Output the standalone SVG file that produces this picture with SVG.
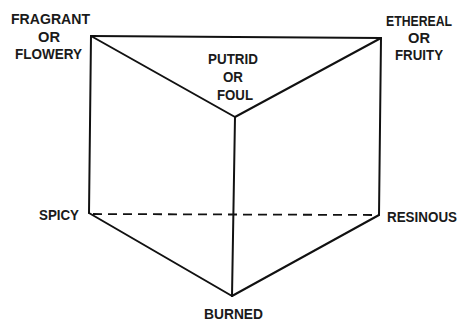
<svg xmlns="http://www.w3.org/2000/svg" width="461" height="321" viewBox="0 0 461 321">
<style>
.lbl{font-family:"Liberation Sans",Arial,sans-serif;font-weight:bold;font-size:15px;fill:#1a1a1a;text-anchor:middle}
.sm{font-size:14px}
.edge{stroke:#111;stroke-width:2;fill:none;stroke-linecap:round}
.dash{stroke:#111;stroke-width:1.8;fill:none;stroke-dasharray:9 6}
</style>
<rect width="461" height="321" fill="#fff"/>
<g id="connectors">
<line class="edge" x1="91" y1="36" x2="381" y2="38"/>
<line class="edge" x1="91" y1="36" x2="235" y2="117"/>
<line class="edge" x1="381" y1="38" x2="235" y2="117"/>
<line class="edge" x1="91" y1="36" x2="89" y2="213"/>
<line class="edge" x1="381" y1="38" x2="379" y2="215"/>
<line class="edge" x1="235" y1="117" x2="232" y2="296"/>
<line class="dash" x1="93" y1="214" x2="376" y2="215"/>
<line class="edge" x1="89" y1="213" x2="232" y2="296"/>
<line class="edge" x1="379" y1="215" x2="232" y2="296"/>
</g>
<g id="fragrant">
<text class="lbl" x="50.5" y="24" textLength="79" lengthAdjust="spacingAndGlyphs">FRAGRANT</text>
<text class="lbl" x="49" y="42" textLength="22" lengthAdjust="spacingAndGlyphs">OR</text>
<text class="lbl" x="48.5" y="59" textLength="67" lengthAdjust="spacingAndGlyphs">FLOWERY</text>
</g>
<g id="ethereal">
<text class="lbl sm" x="419" y="26" textLength="66" lengthAdjust="spacingAndGlyphs">ETHEREAL</text>
<text class="lbl sm" x="419" y="43" textLength="22" lengthAdjust="spacingAndGlyphs">OR</text>
<text class="lbl sm" x="419" y="60" textLength="48" lengthAdjust="spacingAndGlyphs">FRUITY</text>
</g>
<g id="putrid">
<text class="lbl" x="233" y="64" textLength="50" lengthAdjust="spacingAndGlyphs">PUTRID</text>
<text class="lbl" x="233" y="82" textLength="20" lengthAdjust="spacingAndGlyphs">OR</text>
<text class="lbl" x="235" y="99.5" textLength="36" lengthAdjust="spacingAndGlyphs">FOUL</text>
</g>
<g id="spicy">
<text class="lbl" x="59" y="220" textLength="40" lengthAdjust="spacingAndGlyphs">SPICY</text>
</g>
<g id="resinous">
<text class="lbl sm" x="422" y="221.5" textLength="70" lengthAdjust="spacingAndGlyphs">RESINOUS</text>
</g>
<g id="burned">
<text class="lbl" x="233.5" y="319" textLength="59" lengthAdjust="spacingAndGlyphs">BURNED</text>
</g>
</svg>
